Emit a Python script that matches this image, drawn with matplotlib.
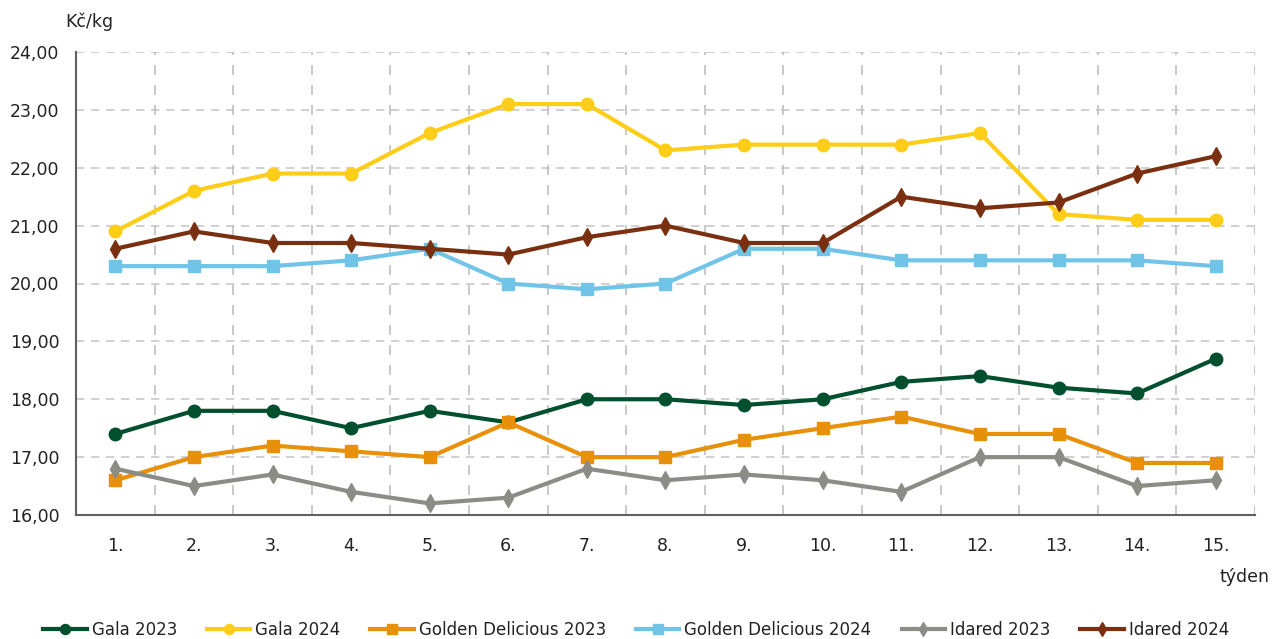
import matplotlib
matplotlib.use("Agg")
import matplotlib.pyplot as plt
from matplotlib.ticker import FixedLocator, FuncFormatter

weeks = ["1.", "2.", "3.", "4.", "5.", "6.", "7.", "8.", "9.", "10.", "11.", "12.", "13.", "14.", "15."]
gala_2023 = [17.4, 17.8, 17.8, 17.5, 17.8, 17.6, 18.0, 18.0, 17.9, 18.0, 18.3, 18.4, 18.2, 18.1, 18.7]
gala_2024 = [20.9, 21.6, 21.9, 21.9, 22.6, 23.1, 23.1, 22.3, 22.4, 22.4, 22.4, 22.6, 21.2, 21.1, 21.1]
golden_2023 = [16.6, 17.0, 17.2, 17.1, 17.0, 17.6, 17.0, 17.0, 17.3, 17.5, 17.7, 17.4, 17.4, 16.9, 16.9]
golden_2024 = [20.3, 20.3, 20.3, 20.4, 20.6, 20.0, 19.9, 20.0, 20.6, 20.6, 20.4, 20.4, 20.4, 20.4, 20.3]
idared_2023 = [16.8, 16.5, 16.7, 16.4, 16.2, 16.3, 16.8, 16.6, 16.7, 16.6, 16.4, 17.0, 17.0, 16.5, 16.6]
idared_2024 = [20.6, 20.9, 20.7, 20.7, 20.6, 20.5, 20.8, 21.0, 20.7, 20.7, 21.5, 21.3, 21.4, 21.9, 22.2]

series = [
    ("Gala 2023", gala_2023, "#00502F", "o", 9),
    ("Gala 2024", gala_2024, "#FDCD17", "o", 9),
    ("Golden Delicious 2023", golden_2023, "#E8900A", "s", 8.5),
    ("Golden Delicious 2024", golden_2024, "#70C4E8", "s", 8.5),
    ("Idared 2023", idared_2023, "#8C8C86", "d", 9),
    ("Idared 2024", idared_2024, "#7A3010", "d", 9),
]

plt.rcParams['font.family'] = ['DejaVu Sans']
fig = plt.figure(figsize=(12.72, 6.39), dpi=100)
ax = fig.add_axes([76/1272, 1 - 515/639, (1255-76)/1272, (515-52)/639])

x = list(range(len(weeks)))
for name, vals, col, mk, ms in series:
    ax.plot(x, vals, color=col, lw=3.0, marker=mk, markersize=ms, label=name,
            solid_joinstyle='round')

ax.set_xlim(-0.5, len(weeks) - 0.5)
ax.set_ylim(16, 24)
ax.yaxis.set_major_locator(FixedLocator([16, 17, 18, 19, 20, 21, 22, 23, 24]))
ax.yaxis.set_major_formatter(FuncFormatter(lambda v, p: f"{v:.2f}".replace(".", ",")))
ax.set_xticks(x)
ax.set_xticklabels(weeks)
ax.tick_params(axis='both', length=0, labelsize=12.5, colors='#222222')
ax.tick_params(axis='x', pad=16)
ax.tick_params(axis='y', pad=12)

for v in range(17, 25):
    ax.axhline(v, color='#C8C8C8', lw=1.2, ls=(0, (5, 4)), zorder=0)
for b in [i + 0.5 for i in range(len(weeks))]:
    ax.axvline(b, color='#C0C0C0', lw=1.2, ls=(0, (6, 6)), zorder=0)

for s in ['top', 'right']:
    ax.spines[s].set_visible(False)
for s in ['left', 'bottom']:
    ax.spines[s].set_color('#606060')
    ax.spines[s].set_linewidth(1.5)

fig.text(65/1272, 1 - 22/639, "Kč/kg", fontsize=12.5, va='center', ha='left', color='#222222')
fig.text(1270/1272, 1 - 577/639, "týden", fontsize=12.5, va='center', ha='right', color='#222222')

fig.legend(loc='center', bbox_to_anchor=(0.5, 1 - 630/639), ncol=6, frameon=False,
           fontsize=12, handlelength=2.6, columnspacing=1.8, handletextpad=0.3,
           markerscale=0.8, labelcolor='#222222')

fig.savefig("out.png", dpi=100)
